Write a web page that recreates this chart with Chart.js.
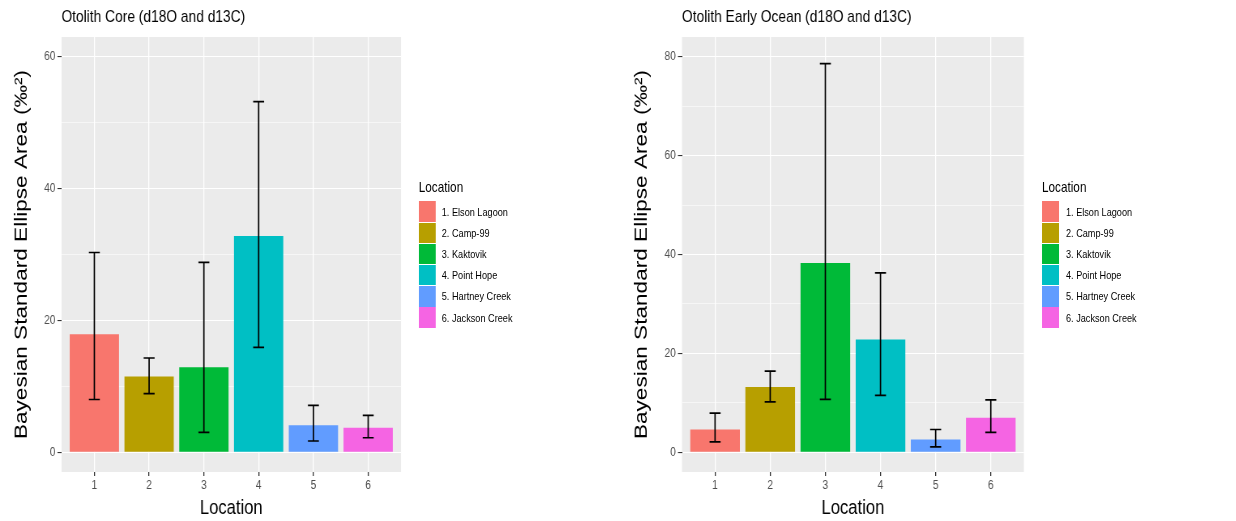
<!DOCTYPE html>
<html>
<head>
<meta charset="utf-8">
<script src="https://cdn.jsdelivr.net/npm/chart.js@4.4.1/dist/chart.umd.min.js"></script>
<style>
  body { margin: 0; background: #fff; }
  #wrap { position: relative; width: 1236px; height: 521px; overflow: hidden; }
  /* the reference figure is squeezed horizontally; each panel is drawn wide and scaled */
  .panel { position: absolute; top: 0; height: 521px; transform: scaleX(0.81); transform-origin: 0 0; }
  .legend { position: absolute; top: 180px; font-family: "Liberation Sans", Arial, sans-serif; color: #000; }
  .lg-title { font-size: 14.5px; line-height: 14px; height: 21px; }
  .lg-item { display: flex; align-items: center; height: 21.2px; }
  .lg-key { width: 21px; height: 20.4px; }
  .lg-text { font-size: 11.3px; }
</style>
</head>
<body>
<div id="wrap">
  <div class="panel" style="left:0;width:763px">
    <canvas id="coreChart"></canvas>
    <div class="legend" id="coreLegend" style="left:517px"></div>
  </div>
  <div class="panel" style="left:620px;width:760px">
    <canvas id="oceanChart"></canvas>
    <div class="legend" id="oceanLegend" style="left:521px"></div>
  </div>
</div>
<script>
// locations and colours (ggplot default hue palette)
const locationIds = [1, 2, 3, 4, 5, 6];
const locationNames = ['1. Elson Lagoon', '2. Camp-99', '3. Kaktovik', '4. Point Hope', '5. Hartney Creek', '6. Jackson Creek'];
const barColors = ['#F8766D', '#B79F00', '#00BA38', '#00BFC4', '#619CFF', '#F564E3'];

// Otolith core: SEA and credible interval
const coreSEA = [17.9, 11.5, 12.9, 32.8, 4.1, 3.7];
const coreLow = [8.0, 8.9, 3.0, 15.9, 1.7, 2.2];
const coreHigh = [30.3, 14.3, 28.8, 53.2, 7.1, 5.6];

// Otolith early ocean
const oceanSEA = [4.6, 13.2, 38.3, 22.8, 2.6, 7.0];
const oceanLow = [2.1, 10.2, 10.7, 11.5, 1.1, 4.0];
const oceanHigh = [7.9, 16.4, 78.6, 36.3, 4.6, 10.6];

// tick labels
const coreTicks = [0, 20, 40, 60];
const oceanTicks = [0, 20, 40, 60, 80];

const SANS = '"Liberation Sans", Arial, sans-serif';

// grey ggplot panel
const panelBg = {
  id: 'panelBg',
  beforeDraw(chart) {
    const a = chart.chartArea, ctx = chart.ctx;
    ctx.save();
    ctx.fillStyle = '#EBEBEB';
    ctx.fillRect(a.left, a.top, a.right - a.left, a.bottom - a.top);
    ctx.restore();
  }
};

// error bars drawn through the chart scales
const errorBars = {
  id: 'errorBars',
  afterDatasetsDraw(chart, args, opts) {
    const xs = chart.scales.x, ys = chart.scales.y, ctx = chart.ctx;
    const half = (xs.getPixelForValue(1 + opts.width / 2) - xs.getPixelForValue(1));
    ctx.save();
    ctx.strokeStyle = '#000';
    ctx.lineWidth = 1.7;
    opts.low.forEach((lo, i) => {
      const cx = xs.getPixelForValue(locationIds[i]);
      const y0 = ys.getPixelForValue(lo);
      const y1 = ys.getPixelForValue(opts.high[i]);
      ctx.beginPath();
      ctx.moveTo(cx, y0); ctx.lineTo(cx, y1);
      ctx.moveTo(cx - half, y0); ctx.lineTo(cx + half, y0);
      ctx.moveTo(cx - half, y1); ctx.lineTo(cx + half, y1);
      ctx.stroke();
    });
    ctx.restore();
  }
};

function makeChart(id, title, values, low, high, yMin, yMax, majors, leftW, padRight) {
  // minor gridlines halfway between majors
  const minors = majors.map(m => m + 10).filter(v => v < yMax);
  const allTicks = majors.concat(minors).sort((a, b) => a - b);
  const isMajor = v => majors.includes(v);

  return new Chart(document.getElementById(id), {
    type: 'bar',
    data: {
      datasets: [{
        data: values.map((v, i) => ({ x: locationIds[i], y: v })),
        backgroundColor: barColors,
        borderWidth: 0,
        categoryPercentage: 0.9,
        barPercentage: 1.0
      }]
    },
    options: {
      responsive: true,
      maintainAspectRatio: false,
      animation: false,
      layout: { padding: { left: 0, right: padRight, top: 0, bottom: 0 } },
      plugins: {
        legend: { display: false },
        tooltip: { enabled: false },
        title: {
          display: true,
          text: title,
          align: 'start',
          fullSize: false,
          color: '#000',
          font: { family: SANS, size: 17, weight: 'normal' },
          padding: { top: 6.8, bottom: 9.8 }
        },
        errorBars: { low: low, high: high, width: 0.2 }
      },
      scales: {
        x: {
          type: 'linear',
          min: 0.4,
          max: 6.6,
          offset: false,
          afterBuildTicks(scale) { scale.ticks = locationIds.map(v => ({ value: v })); },
          afterFit(scale) { scale.height = 49; },
          border: { display: false },
          grid: { offset: false, color: '#FFFFFF', lineWidth: 1.3, tickColor: '#333333', tickWidth: 1.3, tickLength: 4 },
          ticks: { color: '#4D4D4D', font: { family: SANS, size: 12.5 }, padding: 2, callback: v => String(v) },
          title: { display: true, text: 'Location', color: '#000', font: { family: SANS, size: 20.5 }, padding: { top: 0, bottom: 0.5 } }
        },
        y: {
          min: yMin,
          max: yMax,
          afterBuildTicks(scale) { scale.ticks = allTicks.map(v => ({ value: v })); },
          afterFit(scale) { scale.width = leftW; },
          border: { display: false },
          grid: {
            color: '#FFFFFF',
            lineWidth: c => isMajor(c.tick.value) ? 1.1 : 0.55,
            tickColor: c => isMajor(c.tick.value) ? '#333333' : 'rgba(0,0,0,0)',
            tickWidth: 1.1,
            tickLength: 5
          },
          ticks: { color: '#4D4D4D', font: { family: SANS, size: 12.5 }, padding: 2.5, autoSkip: false,
                   callback: v => isMajor(v) ? String(v) : '' },
          title: { display: true, text: 'Bayesian Standard Ellipse Area (‰²)', color: '#000',
                   font: { family: SANS, size: 22.6 }, padding: { top: 13.6, bottom: 0 } }
        }
      }
    },
    plugins: [panelBg, errorBars]
  });
}

function buildLegend(id, gap) {
  const el = document.getElementById(id);
  let html = '<div class="lg-title">Location</div>';
  locationNames.forEach((name, i) => {
    html += '<div class="lg-item"><span class="lg-key" style="background:' + barColors[i] +
            ';margin-right:' + gap + 'px"></span><span class="lg-text">' + name + '</span></div>';
  });
  el.innerHTML = html;
}

makeChart('coreChart', 'Otolith Core (d18O and d13C)', coreSEA, coreLow, coreHigh, -3, 63, coreTicks, 75.9, 267.9);
makeChart('oceanChart', 'Otolith Early Ocean (d18O and d13C)', oceanSEA, oceanLow, oceanHigh, -4, 84, oceanTicks, 76.5, 261.4);
buildLegend('coreLegend', 7.4);
buildLegend('oceanLegend', 8.6);
</script>
</body>
</html>
